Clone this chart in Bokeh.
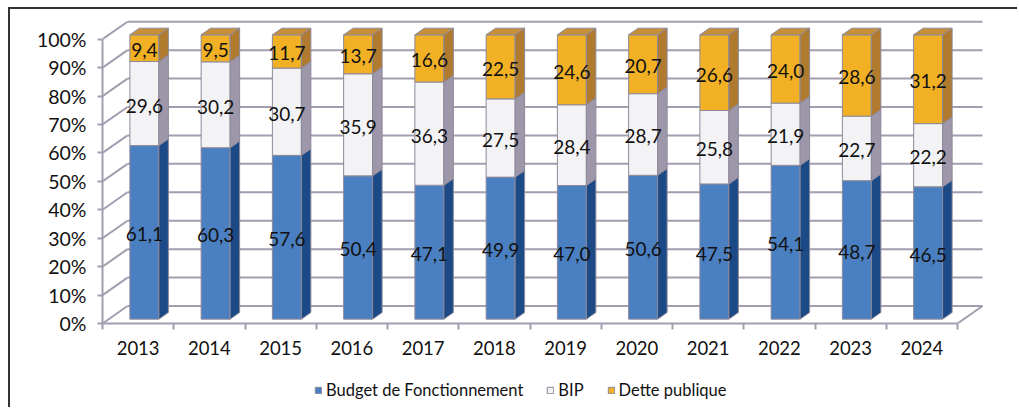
from bokeh.plotting import figure
from bokeh.layouts import column
from bokeh.models import FixedTicker, PrintfTickFormatter, Legend, LegendItem, Range1d
from bokeh.core.properties import value
from bokeh.embed import file_html
from bokeh.resources import INLINE

# ---- data ----
years = ["2013", "2014", "2015", "2016", "2017", "2018", "2019", "2020", "2021", "2022", "2023", "2024"]
budget = [61.1, 60.3, 57.6, 50.4, 47.1, 49.9, 47.0, 50.6, 47.5, 54.1, 48.7, 46.5]
bip = [29.6, 30.2, 30.7, 35.9, 36.3, 27.5, 28.4, 28.7, 25.8, 21.9, 22.7, 22.2]
dette = [9.4, 9.5, 11.7, 13.7, 16.6, 22.5, 24.6, 20.7, 26.6, 24.0, 28.6, 31.2]
series_names = ["Budget de Fonctionnement", "BIP", "Dette publique"]
y_ticks = [0, 10, 20, 30, 40, 50, 60, 70, 80, 90, 100]

# ---- style / geometry constants ----
FONT = "Lato"
GRID = "#a39db0"
OUTLINE = "#8d899a"
front_cols = ["#4a7fc1", "#f3f3f6", "#f2b125"]
side_cols = ["#1b4a86", "#9d97a9", "#b07a2f"]
top_cols = ["#3d6fae", "#d9d7df", "#c78f38"]
PX_X = 71.25      # px per category
PX_Y = 2.843      # px per percent
DX = 25 / PX_X    # depth vector (data units)
DY = 17.5 / PX_Y
BW = 0.407        # bar width (category units)
F0, F1 = 0.25, 0.63  # bar front / back depth fractions

W, H = 1007, 366
ML, MR, MT, MB = 92, 31, 9, 52
n = len(years)

p = figure(width=W, height=H,
           x_range=Range1d(0, (W - ML - MR) / PX_X),
           y_range=Range1d(0, (H - MT - MB) / PX_Y),
           output_backend="svg", toolbar_location=None,
           min_border_left=ML, min_border_right=MR, min_border_top=MT, min_border_bottom=MB)
p.xgrid.visible = False
p.ygrid.visible = False
p.outline_line_color = None
p.background_fill_color = "white"
p.border_fill_color = "white"

# ---- walls & floor (from tick values) ----
p.segment(x0=[0] * len(y_ticks), y0=y_ticks, x1=[DX] * len(y_ticks), y1=[t + DY for t in y_ticks],
          line_color=GRID, line_width=2)
p.segment(x0=[DX] * len(y_ticks), y0=[t + DY for t in y_ticks], x1=[n + DX] * len(y_ticks),
          y1=[t + DY for t in y_ticks], line_color=GRID, line_width=2)
p.segment(x0=[n], y0=[0], x1=[n + DX], y1=[DY], line_color=GRID, line_width=2)

# ---- bars ----
data = [budget, bip, dette]
totals = [sum(v[i] for v in data) for i in range(n)]
cum = [0.0] * n
for k, vals in enumerate(data):
    lo = [cum[i] / totals[i] * 100 for i in range(n)]
    hi = [(cum[i] + vals[i]) / totals[i] * 100 for i in range(n)]
    left = [i + 0.5 - BW / 2 + F0 * DX for i in range(n)]
    right = [l + BW for l in left]
    bot = [v + F0 * DY for v in lo]
    top = [v + F0 * DY for v in hi]
    ddx = (F1 - F0) * DX
    ddy = (F1 - F0) * DY
    p.quad(left=left, right=right, bottom=bot, top=top,
           fill_color=front_cols[k], line_color=OUTLINE, line_width=1)
    p.patches(xs=[[right[i], right[i] + ddx, right[i] + ddx, right[i]] for i in range(n)],
              ys=[[bot[i], bot[i] + ddy, top[i] + ddy, top[i]] for i in range(n)],
              fill_color=side_cols[k], line_color=OUTLINE, line_width=1)
    if k == len(data) - 1:
        p.patches(xs=[[left[i], right[i], right[i] + ddx, left[i] + ddx] for i in range(n)],
                  ys=[[top[i], top[i], top[i] + ddy, top[i] + ddy] for i in range(n)],
                  fill_color=top_cols[k], line_color=OUTLINE, line_width=1)
    p.text(x=[(left[i] + right[i]) / 2 for i in range(n)],
           y=[(bot[i] + top[i]) / 2 for i in range(n)],
           text=[f"{v:.1f}".replace(".", ",") for v in vals],
           text_font=value(FONT), text_font_size="19px", text_color="#111111",
           text_align="center", text_baseline="middle", y_offset=2)
    cum = [cum[i] + vals[i] for i in range(n)]

# ---- axes ----
xa = p.xaxis[0]
xa.ticker = FixedTicker(ticks=[i + 0.5 for i in range(n)], minor_ticks=list(range(n + 1)))
xa.major_label_overrides = {i + 0.5: years[i] for i in range(n)}
xa.bounds = (0, n)
xa.major_tick_out = 0
xa.major_tick_in = 0
xa.minor_tick_out = 6
xa.minor_tick_in = 0
xa.minor_tick_line_color = GRID
xa.minor_tick_line_width = 2
xa.axis_line_color = GRID
xa.axis_line_width = 2
xa.major_label_standoff = 11
xa.major_label_text_font = FONT
xa.major_label_text_font_size = "18.5px"
xa.major_label_text_color = "#111111"

ya = p.yaxis[0]
ya.ticker = FixedTicker(ticks=y_ticks)
ya.formatter = PrintfTickFormatter(format="%d%%")
ya.bounds = (0, 100)
ya.major_tick_out = 5
ya.major_tick_in = 0
ya.minor_tick_out = 0
ya.minor_tick_in = 0
ya.major_tick_line_color = GRID
ya.major_tick_line_width = 2
ya.axis_line_color = GRID
ya.axis_line_width = 2
ya.major_label_standoff = 11
ya.major_label_text_font = FONT
ya.major_label_text_font_size = "19.5px"
ya.major_label_text_color = "#111111"

# ---- legend (own strip below the chart) ----
pl = figure(width=W, height=32, x_range=Range1d(0, 1), y_range=Range1d(0, 1),
            output_backend="svg", toolbar_location=None,
            x_axis_location=None, y_axis_location=None, min_border=0)
pl.xgrid.visible = False
pl.ygrid.visible = False
pl.outline_line_color = None
pl.background_fill_color = "white"
pl.border_fill_color = "white"
# one swatch per series, kept outside the visible strip range; only the legend shows them
swatches = [pl.quad(left=[-3], right=[-2], bottom=[-3], top=[-2], fill_color=front_cols[k],
                    line_color=OUTLINE, line_width=1) for k in range(3)]
legend = Legend(items=[LegendItem(label=series_names[k], renderers=[swatches[k]]) for k in range(3)],
                orientation="horizontal", location=(212, 7),
                glyph_width=8, glyph_height=8, label_standoff=4, spacing=23,
                padding=0, margin=0, border_line_color=None, background_fill_alpha=0,
                label_text_font=FONT, label_text_font_size="16.5px", label_text_color="#111111")
pl.add_layout(legend)

layout = column(p, pl, spacing=0)
layout.styles = {"position": "relative", "left": "8px", "top": "7px",
                 "border-top": "2px solid #333333", "border-left": "2px solid #333333"}

open("out.html", "w").write(file_html(layout, INLINE))
